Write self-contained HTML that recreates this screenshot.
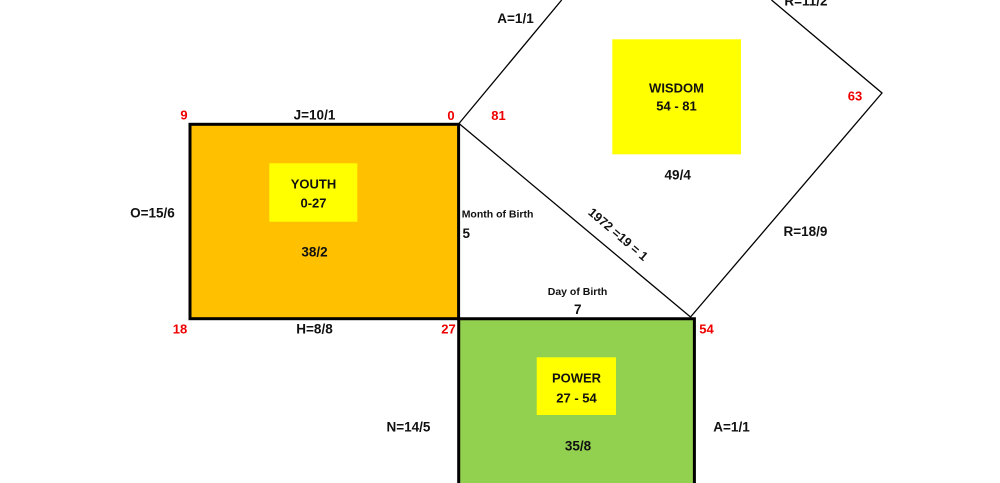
<!DOCTYPE html>
<html>
<head>
<meta charset="utf-8">
<style>
html,body{margin:0;padding:0;background:#fff;}
body{width:1000px;height:483px;overflow:hidden;}
svg{display:block;}
text{font-family:"Liberation Sans",Arial,sans-serif;font-weight:bold;fill:#111;}
.l{font-size:13.5px;}
.r{font-size:13px;fill:#EE0000;}
.s{font-size:10.5px;}
.b{font-size:13px;}
</style>
</head>
<body>
<svg width="1000" height="483" viewBox="0 0 1000 483" xmlns="http://www.w3.org/2000/svg">
  <rect x="0" y="0" width="1000" height="483" fill="#fff"/>
  <!-- Youth rectangle -->
  <rect x="190" y="124.3" width="268.6" height="194.4" fill="#FFC000" stroke="#000" stroke-width="3"/>
  <!-- Power rectangle (bottom edge off-frame) -->
  <rect x="458.7" y="318.7" width="235.7" height="164.3" fill="#92D050"/>
  <polyline points="458.7,483 458.7,318.7 694.4,318.7 694.4,483" fill="none" stroke="#000" stroke-width="3"/>
  <!-- Diamond (top corner off-frame) -->
  <polyline points="561.7,0 459,123.5 690.5,317 882,93 771.5,0" fill="none" stroke="#000" stroke-width="1.3"/>
  <!-- Yellow boxes -->
  <rect x="612.3" y="39.3" width="128.7" height="115" fill="#FFFF00"/>
  <rect x="269.3" y="163.3" width="88" height="58.4" fill="#FFFF00"/>
  <rect x="536.7" y="357.3" width="79.3" height="57.7" fill="#FFFF00"/>

  <g text-anchor="middle" dominant-baseline="central">
    <!-- diamond labels -->
    <text class="l" x="515.5" y="18.3">A=1/1</text>
    <text class="l" x="806" y="1">R=11/2</text>
    <text class="b" x="676.5" y="88">WISDOM</text>
    <text class="b" x="676.5" y="106">54 - 81</text>
    <text class="r" x="855" y="96">63</text>
    <text class="r" x="451" y="115.5">0</text>
    <text class="r" x="498.5" y="115.5">81</text>
    <text class="l" x="677.7" y="175">49/4</text>
    <text class="l" x="805.5" y="231.5">R=18/9</text>
    <text class="l" transform="translate(618,234.5) rotate(40.5)" x="0" y="0" style="font-size:12.5px">1972 =19 = 1</text>

    <!-- youth labels -->
    <text class="r" x="184" y="115">9</text>
    <text class="l" x="314.5" y="115">J=10/1</text>
    <text class="l" x="152.5" y="213">O=15/6</text>
    <text class="b" x="313.5" y="184">YOUTH</text>
    <text class="b" x="313.5" y="203">0-27</text>
    <text class="l" x="314.5" y="252">38/2</text>
    <text class="r" x="180" y="329">18</text>
    <text class="l" x="314.5" y="329">H=8/8</text>
    <text class="r" x="448.5" y="329">27</text>

    <!-- middle -->
    <text class="s" x="577.5" y="292">Day of Birth</text>
    <text class="l" x="577.7" y="309.3">7</text>
    <text class="r" x="706.5" y="329">54</text>

    <!-- power -->
    <text class="b" x="576.5" y="378">POWER</text>
    <text class="b" x="576.5" y="398">27 - 54</text>
    <text class="l" x="578" y="446">35/8</text>
    <text class="l" x="408.5" y="427">N=14/5</text>
    <text class="l" x="731.5" y="427">A=1/1</text>
  </g>
  <g dominant-baseline="central">
    <text class="s" x="461.7" y="214.5">Month of Birth</text>
    <text class="l" x="462.5" y="233.3">5</text>
  </g>
</svg>
</body>
</html>
